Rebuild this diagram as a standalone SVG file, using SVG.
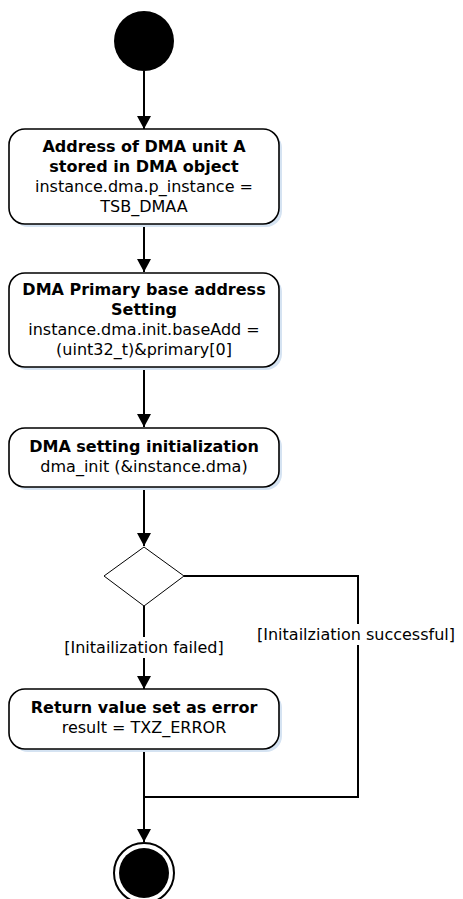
<svg xmlns="http://www.w3.org/2000/svg" width="463" height="899" viewBox="0 0 463 899">
<defs>
<style>
.box{fill:#fff;stroke:#000;stroke-width:1.6}
.shadow{fill:#d5e3f2}
.b{font-family:"DejaVu Sans",Verdana,sans-serif;font-size:16px;font-weight:bold;text-anchor:middle;fill:#000}
.n{font-family:"DejaVu Sans",Verdana,sans-serif;font-size:16px;text-anchor:middle;fill:#000}
.lbl{font-family:"DejaVu Sans",Verdana,sans-serif;font-size:16px;fill:#000}
.c{fill:none;stroke:#000;stroke-width:2}
</style>
<marker id="arr" markerWidth="14" markerHeight="14" viewBox="0 0 14 14" refX="13" refY="7" orient="auto" markerUnits="userSpaceOnUse">
<path d="M0,0 L13,7 L0,14 Z" fill="#000"/>
</marker>
</defs>
<g id="connectors">
<line class="c" x1="144" y1="71" x2="144" y2="129" marker-end="url(#arr)"/>
<line class="c" x1="144" y1="224" x2="144" y2="272" marker-end="url(#arr)"/>
<line class="c" x1="144" y1="367" x2="144" y2="427" marker-end="url(#arr)"/>
<line class="c" x1="144" y1="487" x2="144" y2="546" marker-end="url(#arr)"/>
<line class="c" x1="144" y1="606" x2="144" y2="689" marker-end="url(#arr)"/>
<polyline class="c" points="184,576 358,576 358,797 144,797"/>
<line class="c" x1="144" y1="749" x2="144" y2="842" marker-end="url(#arr)"/>
<rect x="60" y="637" width="168" height="21" fill="#fff"/>
<text class="lbl" x="144" y="653" text-anchor="middle">[Initailization failed]</text>
<rect x="255" y="624" width="202" height="21" fill="#fff"/>
<text class="lbl" x="356" y="640" text-anchor="middle">[Initailziation successful]</text>
</g>
<g id="start">
<circle cx="144" cy="41" r="30" fill="#000"/>
</g>
<g id="node1">
<rect class="shadow" x="12" y="132" width="270" height="95" rx="16"/>
<rect class="box" x="9" y="129" width="270" height="95" rx="16"/>
<text class="b" x="144" y="152">Address of DMA unit A</text>
<text class="b" x="144" y="172">stored in DMA object</text>
<text class="n" x="144" y="192">instance.dma.p_instance =</text>
<text class="n" x="144" y="212">TSB_DMAA</text>
</g>
<g id="node2">
<rect class="shadow" x="12" y="276" width="270" height="94" rx="16"/>
<rect class="box" x="9" y="273" width="270" height="94" rx="16"/>
<text class="b" x="144" y="295">DMA Primary base address</text>
<text class="b" x="144" y="315">Setting</text>
<text class="n" x="144" y="335">instance.dma.init.baseAdd =</text>
<text class="n" x="144" y="355">(uint32_t)&amp;primary[0]</text>
</g>
<g id="node3">
<rect class="shadow" x="12" y="431" width="270" height="59" rx="16"/>
<rect class="box" x="9" y="428" width="270" height="59" rx="16"/>
<text class="b" x="144" y="452">DMA setting initialization</text>
<text class="n" x="144" y="472">dma_init (&amp;instance.dma)</text>
</g>
<g id="decision">
<polygon points="144,547 184,576 144,606 104,576" fill="#fff" stroke="#000" stroke-width="1"/>
</g>
<g id="node4">
<rect class="shadow" x="12" y="692" width="270" height="60" rx="16"/>
<rect class="box" x="9" y="689" width="270" height="60" rx="16"/>
<text class="b" x="144" y="713">Return value set as error</text>
<text class="n" x="144" y="733">result = TXZ_ERROR</text>
</g>
<g id="end">
<circle cx="144" cy="873" r="30" fill="#fff" stroke="#000" stroke-width="2"/>
<circle cx="144" cy="873" r="25" fill="#000"/>
</g>
</svg>
